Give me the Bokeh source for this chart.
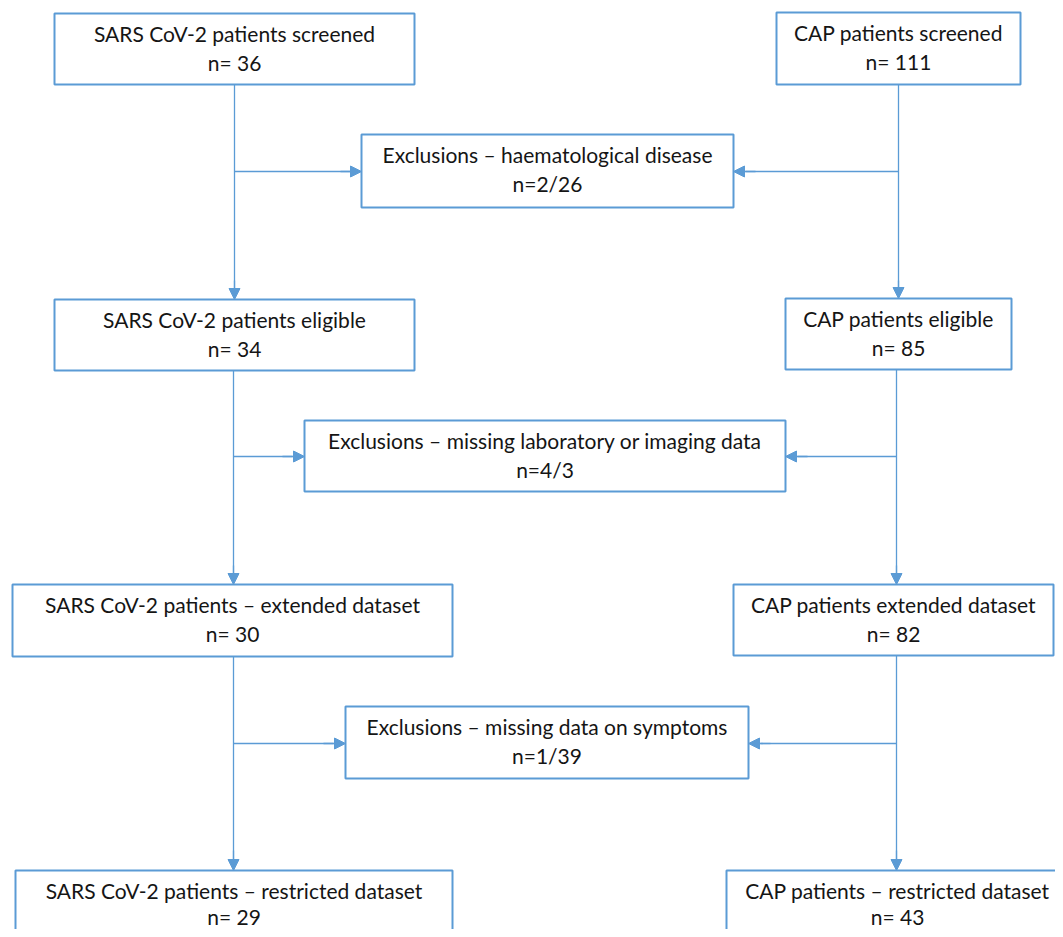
from bokeh.plotting import figure
from bokeh.models import Range1d, Arrow, NormalHead, ColumnDataSource
from bokeh.core.properties import value
from bokeh.embed import file_html
from bokeh.resources import INLINE

# ---- data ----
labels = [
    "SARS CoV-2 patients screened",
    "CAP patients screened",
    "Exclusions \u2013 haematological disease",
    "SARS CoV-2 patients eligible",
    "CAP patients eligible",
    "Exclusions \u2013 missing laboratory or imaging data",
    "SARS CoV-2 patients \u2013 extended dataset",
    "CAP patients extended dataset",
    "Exclusions \u2013 missing data on symptoms",
    "SARS CoV-2 patients \u2013 restricted dataset",
    "CAP patients \u2013 restricted dataset",
]
counts = ["n= 36", "n= 111", "n=2/26", "n= 34", "n= 85", "n=4/3",
          "n= 30", "n= 82", "n=1/39", "n= 29", "n= 43"]

# ---- layout (image pixel coordinates) ----
lefts   = [54, 776, 361, 54, 785, 304, 12, 733, 345, 15, 726]
rights  = [414, 1020, 733, 414, 1011, 785, 452, 1053, 748, 452, 1075]
tops    = [13, 12, 134, 299, 298, 420, 584, 584, 706, 870, 870]
bottoms = [84, 84, 207, 370, 369, 491, 656, 655, 778, 960, 960]

BLUE = "#5B9BD5"
TXT = "#151515"
FONT = "Lato"

W, H = 1055, 929
p = figure(width=W, height=H, output_backend="svg", toolbar_location=None,
           x_range=Range1d(0, W), y_range=Range1d(H, 0),
           min_border=0, border_fill_color="white", background_fill_color="white")
p.axis.visible = False
p.grid.visible = False
p.outline_line_color = None

# connector lines
LX1, RX1 = 234, 898
LX2, RX2 = 233, 896
segs_x0 = [LX1, LX1, RX1, RX1, LX2, LX2, RX2, RX2, LX2, LX2, RX2, RX2]
segs_y0 = [84, 171, 84, 171, 370, 456, 369, 456, 656, 743, 655, 743]
segs_x1 = [LX1, 350, RX1, 745, LX2, 292, RX2, 797, LX2, 333, RX2, 760]
segs_y1 = [288, 171, 288, 171, 577, 456, 577, 456, 860, 743, 860, 743]
p.segment(x0=segs_x0, y0=segs_y0, x1=segs_x1, y1=segs_y1, line_color=BLUE, line_width=1.3)

# arrowheads
heads = [
    (LX1, 280, LX1, 299), (RX1, 280, RX1, 298),
    (340, 171, 361, 171), (755, 171, 733, 171),
    (LX2, 565, LX2, 584), (RX2, 565, RX2, 584),
    (282, 456, 304, 456), (807, 456, 785, 456),
    (LX2, 850, LX2, 870), (RX2, 850, RX2, 870),
    (323, 743, 345, 743), (770, 743, 748, 743),
]
for (xs, ys, xe, ye) in heads:
    p.add_layout(Arrow(end=NormalHead(size=11, fill_color=BLUE, line_color=BLUE, line_width=1),
                       x_start=xs, y_start=ys, x_end=xe, y_end=ye,
                       line_color=BLUE, line_width=1.3))

# boxes
src = ColumnDataSource(dict(left=lefts, right=rights, top=tops, bottom=bottoms))
p.quad(left="left", right="right", top="top", bottom="bottom", source=src,
       fill_color="white", line_color=BLUE, line_width=2)

# texts
cx = [(l + r) / 2 for l, r in zip(lefts, rights)]
cx[10] = 897
cy1 = [t + 20 for t in tops]
cy2 = [t + 49 for t in tops]
cy2[9] -= 3
cy2[10] -= 3
p.text(x=cx, y=cy1, text=labels, text_align="center", text_baseline="middle",
       text_font=value(FONT), text_font_size="21px", text_color=TXT)
p.text(x=cx, y=cy2, text=counts, text_align="center", text_baseline="middle",
       text_font=value(FONT), text_font_size="21px", text_color=TXT)

open("out.html", "w").write(file_html(p, INLINE))
